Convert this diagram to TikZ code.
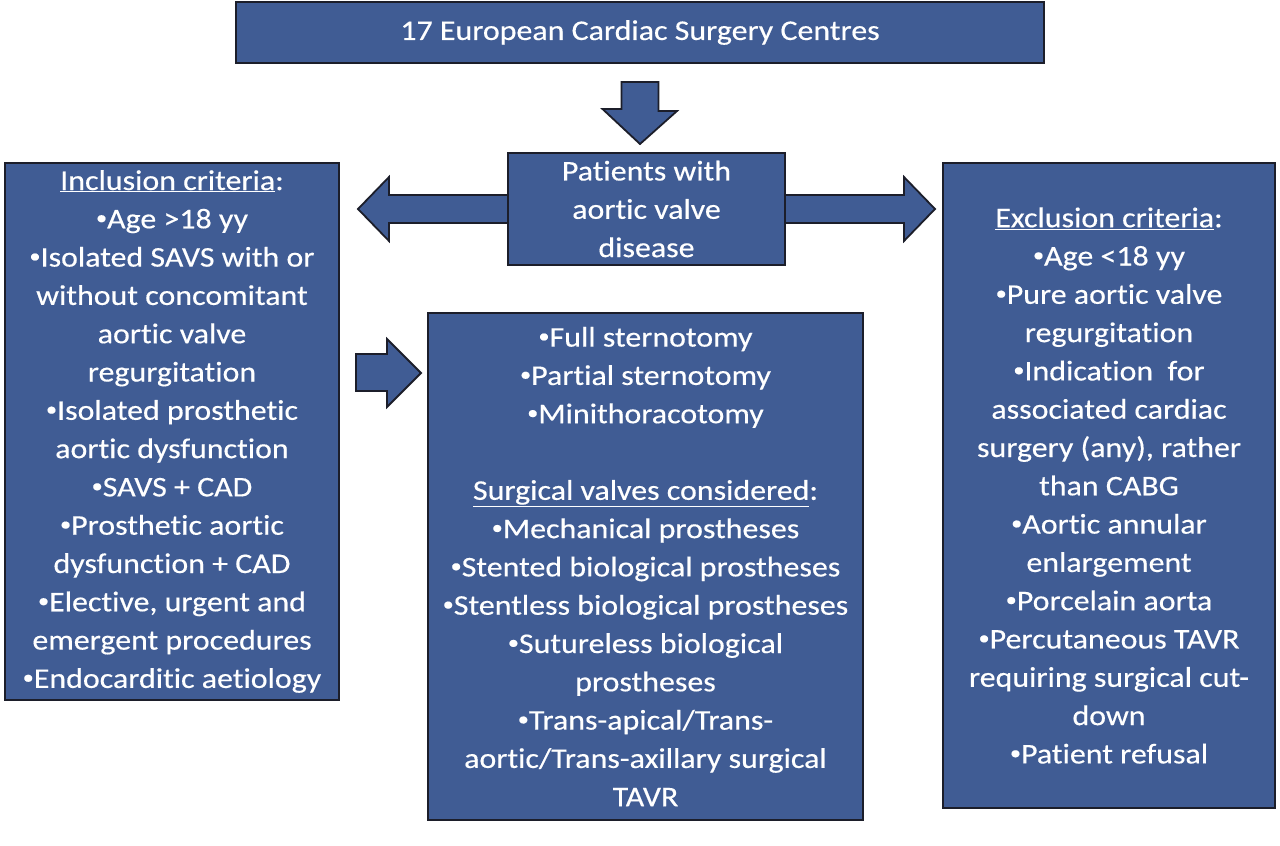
\documentclass[tikz,border=0pt]{standalone}
\usepackage{fontspec}
\usepackage{graphicx}
\setmainfont{Carlito}[Ligatures=NoCommon, FakeStretch=1.12, FakeBold=0.4]
\usetikzlibrary{calc, backgrounds}

\definecolor{boxblue}{HTML}{405C94}
\definecolor{boxline}{HTML}{1C1E2A}

\newcommand{\pt}{\raisebox{0.14em}{\scalebox{0.7}{\textbullet}}}

\tikzset{
	box/.style = {draw=boxline, fill=boxblue, line width=2pt, text=white, align=center,
		inner sep=0pt, font=\fontsize{28.5}{38.3}\selectfont},
	blockarrow/.style = {draw=boxline, fill=boxblue, line width=1.8pt, line join=miter},
}

\begin{document}
\begin{tikzpicture}[x=1pt, y=-1pt]
	\useasboundingbox (0,0) rectangle (1280,846);

	\node [box, minimum width=808pt, minimum height=61pt] (top) at (640,32.5)
		{17 European Cardiac Surgery Centres};

	\node [box, minimum width=277pt, minimum height=112pt] (patients) at (646.5,209)
		{Patients with\\aortic valve\\disease};

	\node [box, minimum width=334pt, minimum height=537pt] (incl) at (172,431.5)
		{\underline{Inclusion criteria}:\\
		\pt Age >18 yy\\
		\pt Isolated SAVS with or\\
		without concomitant\\
		aortic valve\\
		regurgitation\\
		\pt Isolated prosthetic\\
		aortic dysfunction\\
		\pt SAVS + CAD\\
		\pt Prosthetic aortic\\
		dysfunction + CAD\\
		\pt Elective, urgent and\\
		emergent procedures\\
		\pt Endocarditic aetiology};

	\node [box, minimum width=435pt, minimum height=507pt] (mid) at (645.5,566.5)
		{\pt Full sternotomy\\
		\pt Partial sternotomy\\
		\pt Minithoracotomy\\[38.3pt]
		\underline{Surgical valves considered}:\\
		\pt Mechanical prostheses\\
		\pt Stented biological prostheses\\
		\pt Stentless biological prostheses\\
		\pt Sutureless biological\\
		prostheses\\
		\pt Trans-apical/Trans-\\
		aortic/Trans-axillary surgical\\
		TAVR};

	\node [box, minimum width=332pt, minimum height=645pt] (excl) at (1109,485.5)
		{\underline{Exclusion criteria}:\\
		\pt Age <18 yy\\
		\pt Pure aortic valve\\
		regurgitation\\
		\pt Indication\ \ for\\
		associated cardiac\\
		surgery (any), rather\\
		than CABG\\
		\pt Aortic annular\\
		enlargement\\
		\pt Porcelain aorta\\
		\pt Percutaneous TAVR\\
		requiring surgical cut-\\
		down\\
		\pt Patient refusal};

	% down arrow from the centres to the patients
	\coordinate (dtip) at ($(top.south |- patients.north)+(0,-8)$);
	\draw [blockarrow] ($(top.south)+(-18.5,18)$) -- ++(37,0) -- ++(0,29) -- ++(18.5,0)
		-- (dtip) -- ($(dtip)+(-37.5,-35)$) -- ++(19,0) -- cycle;

	% double arrow behind the patients box
	\coordinate (ltip) at ($(patients.west -| incl.east)+(18,0)$);
	\coordinate (rtip) at ($(patients.east -| excl.west)+(-7,0)$);
	\begin{pgfonlayer}{background}
		\draw [blockarrow] (ltip) -- ($(ltip)+(31,-32)$) -- ($(ltip)+(31,-14)$)
			-- ($(rtip)+(-31,-14)$) -- ($(rtip)+(-31,-32)$) -- (rtip)
			-- ($(rtip)+(-31,32)$) -- ($(rtip)+(-31,14)$)
			-- ($(ltip)+(31,14)$) -- ($(ltip)+(31,32)$) -- cycle;
	\end{pgfonlayer}

	% small arrow into the surgical box
	\coordinate (mtip) at ($(mid.north west)+(-6,61)$);
	\draw [blockarrow] (mtip) -- ++(-34,-34) -- ++(0,15) -- ++(-31,0) -- ++(0,37)
		-- ++(31,0) -- ++(0,16) -- cycle;
\end{tikzpicture}
\end{document}
